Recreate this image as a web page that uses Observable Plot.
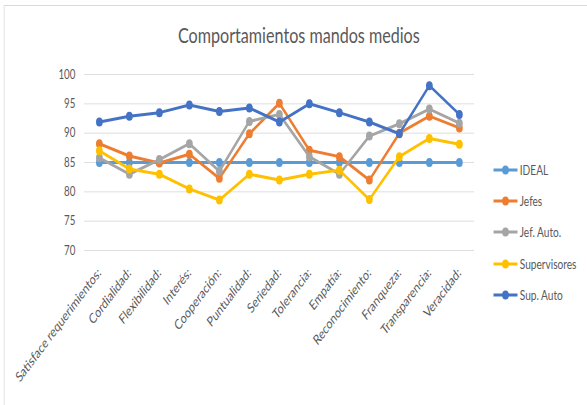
<!DOCTYPE html>
<html><head><meta charset="utf-8">
<script src="https://cdn.jsdelivr.net/npm/d3@7"></script>
<script src="https://cdn.jsdelivr.net/npm/@observablehq/plot@0.6"></script>
<style>
html,body{margin:0;padding:0;background:#fff;overflow:hidden;width:587px;height:405px}
#wrap{position:absolute;left:0;top:0;width:783px;height:405px;transform:scaleX(0.75);transform-origin:0 0;font-family:Lato,sans-serif;color:#595959}
#frame{position:absolute;left:5px;top:5px;width:900px;height:500px;border:1px solid #d9d9d9;box-sizing:border-box}
#title{position:absolute;left:0;width:797px;top:23px;text-align:center;font-size:21.5px;line-height:24px}
#chart{position:absolute;left:0;top:0}
.leg{position:absolute;left:657px;height:16px;display:flex;align-items:center;font-size:13.5px;white-space:nowrap}
.leg svg{margin-right:2px}
</style>
</head><body>
<div id="wrap">
  <div id="frame"></div>
  <div id="title">Comportamientos mandos medios</div>
  <div id="chart"></div>
  <div id="legend"></div>
</div>
<script>
const categories = ["Satisface requerimientos:", "Cordialidad:", "Flexibilidad:", "Interés:", "Cooperación:", "Puntualidad:", "Seriedad:", "Tolerancia:", "Empatía:", "Reconocimiento:", "Franqueza:", "Transparencia:", "Veracidad:"];
const ideal        = [85, 85, 85, 85, 85, 85, 85, 85, 85, 85, 85, 85, 85];
const jefes        = [88.2, 86.1, 84.9, 86.4, 82.3, 89.9, 95.1, 87.1, 86.0, 82.0, 90.0, 92.9, 90.9];
const jefAuto      = [85.8, 83.0, 85.5, 88.2, 83.5, 92.0, 93.2, 86.0, 83.0, 89.5, 91.6, 94.1, 91.7];
const supervisores = [87.0, 83.9, 83.0, 80.5, 78.6, 83.0, 82.0, 83.0, 83.7, 78.7, 86.0, 89.1, 88.1];
const supAuto      = [91.9, 92.9, 93.5, 94.8, 93.7, 94.3, 91.9, 95.0, 93.5, 91.9, 89.9, 98.1, 93.2];
const seriesNames  = ["IDEAL", "Jefes", "Jef. Auto.", "Supervisores", "Sup. Auto"];
const seriesColors = ["#5B9BD5", "#ED7D31", "#A5A5A5", "#FFC000", "#4472C4"];
const yTicks       = [70, 75, 80, 85, 90, 95, 100];
const chartTitle   = "Comportamientos mandos medios";

const seriesValues = [ideal, jefes, jefAuto, supervisores, supAuto];
const rows = seriesValues.flatMap((vals, s) => vals.map((v, i) => ({cat: categories[i], value: v, series: seriesNames[s]})));

const marks = [Plot.ruleY(yTicks, {stroke: "#d9d9d9", strokeWidth: 1})];
seriesNames.forEach(name => {
  const d = rows.filter(r => r.series === name);
  marks.push(Plot.line(d, {x: "cat", y: "value", stroke: "series", strokeWidth: 3, strokeLinejoin: "round"}));
  marks.push(Plot.dot(d, {x: "cat", y: "value", fill: "series", r: 4.5}));
});
marks.push(Plot.axisY({ticks: yTicks, tickSize: 0, tickPadding: 12, fontSize: 13, label: null}));
marks.push(Plot.axisX({tickSize: 0, tickRotate: -45, tickPadding: 20, fontSize: 14, label: null}));

const chart = Plot.plot({
  width: 783, height: 405,
  marginLeft: 112, marginRight: 151, marginTop: 74, marginBottom: 155,
  x: {type: "point", domain: categories, padding: 0.5, label: null},
  y: {domain: [70, 100], label: null},
  color: {domain: seriesNames, range: seriesColors},
  style: {fontFamily: "Lato", color: "#595959", background: "transparent", fontSize: "13px"},
  marks
});
document.getElementById("chart").appendChild(chart);
document.getElementById("title").textContent = chartTitle;

const legend = document.getElementById("legend");
const legendCenters = [170, 201, 232, 264, 295];
seriesNames.forEach((name, i) => {
  const item = document.createElement("div");
  item.className = "leg";
  item.style.top = (legendCenters[i] - 8) + "px";
  item.innerHTML = `<svg width="34" height="12"><line x1="1" y1="6" x2="33" y2="6" stroke="${seriesColors[i]}" stroke-width="3"/><circle cx="17" cy="6" r="4.5" fill="${seriesColors[i]}"/></svg><span>${name}</span>`;
  legend.appendChild(item);
});
</script>
</body></html>
